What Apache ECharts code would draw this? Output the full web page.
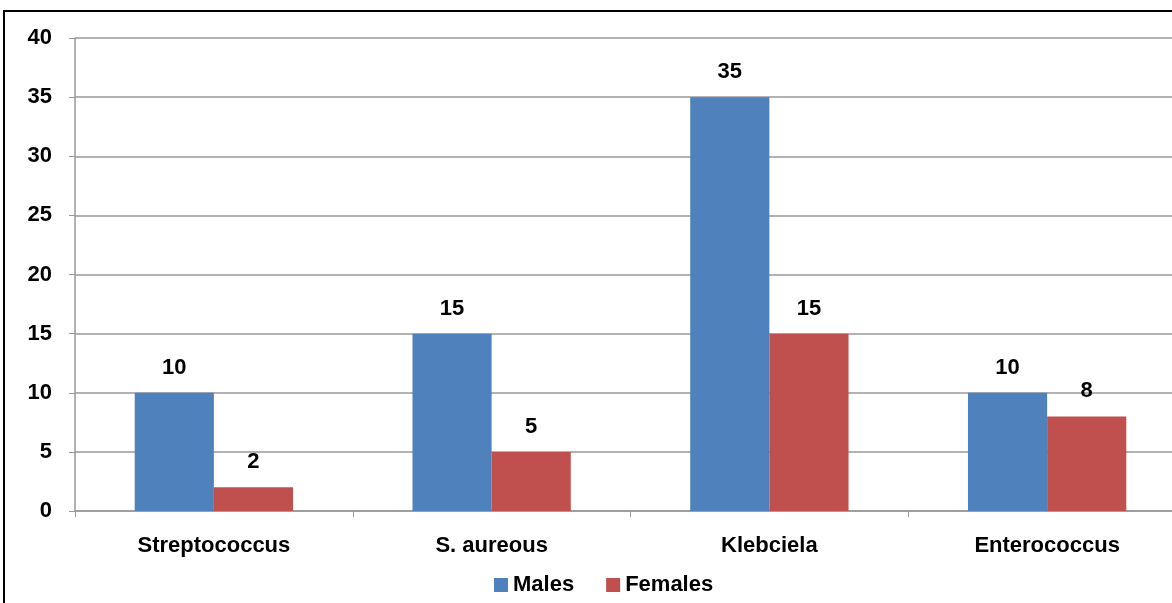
<!DOCTYPE html>
<html><head><meta charset="utf-8">
<script src="https://cdn.jsdelivr.net/npm/echarts@6/dist/echarts.min.js"></script>
<style>html,body{margin:0;padding:0;background:#fff;}#c{width:1172px;height:603px;}</style>
</head><body><div id="c"></div>
<script>
var categories = ['Streptococcus', 'S. aureous', 'Klebciela', 'Enterococcus'];
var males = [10, 15, 35, 10];
var females = [2, 5, 15, 8];
var yTicks = [0, 5, 10, 15, 20, 25, 30, 35, 40];

var FONT = '"Liberation Sans", Arial, sans-serif';
var chart = echarts.init(document.getElementById('c'));
var lbl = {show: true, position: 'top', distance: 14, color: '#000', fontFamily: FONT, fontWeight: 'bold', fontSize: 22};
chart.setOption({
  animation: false,
  graphic: [{type: 'rect', shape: {x: 4, y: 11, width: 1200, height: 620}, style: {fill: 'none', stroke: '#000', lineWidth: 2}, z: 100}],
  grid: {left: 75, right: -14, top: 38, bottom: 92, containLabel: false, outerBoundsMode: 'none'},
  legend: {bottom: 2, left: 489, itemWidth: 14, itemHeight: 14, itemGap: 32, icon: 'rect',
    textStyle: {fontFamily: FONT, fontWeight: 'bold', fontSize: 22, color: '#000'},
    data: ['Males', 'Females']},
  xAxis: {type: 'category', data: categories,
    axisLine: {lineStyle: {color: '#999', width: 1.5}},
    axisTick: {show: true, alignWithLabel: false, length: 6, lineStyle: {color: '#999'}},
    axisLabel: {color: '#000', fontFamily: FONT, fontWeight: 'bold', fontSize: 22, margin: 24}},
  yAxis: {type: 'value', min: 0, max: 40, interval: 5,
    axisLine: {show: true, lineStyle: {color: '#999', width: 1.5}},
    axisTick: {show: true, length: 6, lineStyle: {color: '#999'}},
    splitLine: {lineStyle: {color: '#999', width: 1.5}},
    axisLabel: {color: '#000', fontFamily: FONT, fontWeight: 'bold', fontSize: 22, margin: 23,
      formatter: function (v) { return yTicks.indexOf(v) >= 0 ? String(v) : ''; }}},
  series: [
    {name: 'Males', type: 'bar', data: males, barWidth: '28.5%', barGap: '0%', itemStyle: {color: '#4F81BD'}, label: lbl},
    {name: 'Females', type: 'bar', data: females, barWidth: '28.5%', itemStyle: {color: '#C0504D'}, label: lbl}
  ]
});
</script></body></html>
